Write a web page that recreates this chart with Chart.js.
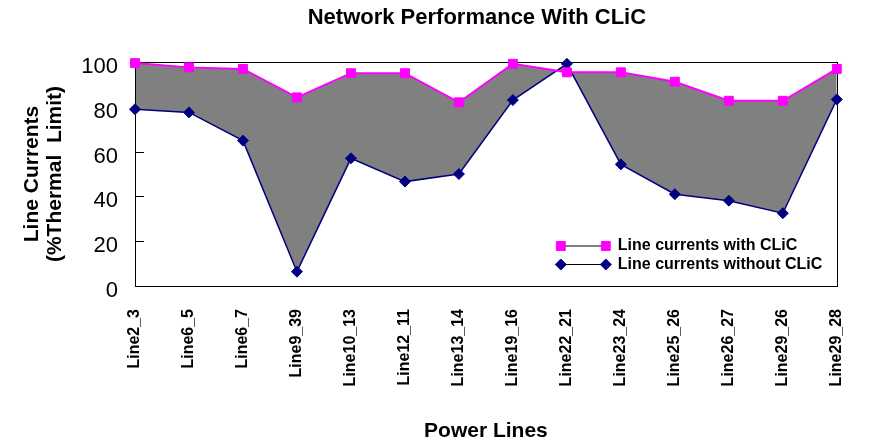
<!DOCTYPE html>
<html>
<head>
<meta charset="utf-8">
<script src="https://cdn.jsdelivr.net/npm/chart.js@4.4.0/dist/chart.umd.min.js"></script>
<style>
  html, body { margin: 0; padding: 0; background: #fff; }
</style>
</head>
<body>
<canvas id="lineChart" width="879" height="444"></canvas>
<script>
const chartTitle = 'Network Performance With CLiC';
const lines = ['Line2_3', 'Line6_5', 'Line6_7', 'Line9_39', 'Line10_13', 'Line12_11', 'Line13_14',
               'Line19_16', 'Line22_21', 'Line23_24', 'Line25_26', 'Line26_27', 'Line29_26', 'Line29_28'];
const withClic = [99.5, 97.6, 96.9, 84.2, 95, 95, 82, 99.2, 95.4, 95.4, 91.2, 82.7, 82.7, 96.9];
const withoutClic = [78.9, 77.5, 64.9, 6.4, 57, 46.6, 50, 83, 99.2, 54.3, 41, 38.1, 32.5, 83.3];
const yTicks = [0, 20, 40, 60, 80, 100];

const family = "Arial, 'Liberation Sans', sans-serif";
const canvas = document.getElementById('lineChart');
const ctx = canvas.getContext('2d');

// inside tick marks on the value axis (under the fill)
const yTickMarks = {
    id: 'yTickMarks',
    beforeDraw(chart) {
        const { ctx, chartArea, scales } = chart;
        ctx.save();
        ctx.strokeStyle = '#000';
        ctx.lineWidth = 1;
        yTicks.forEach((v) => {
            const y = Math.round(scales.y.getPixelForValue(v)) + 0.5;
            ctx.beginPath();
            ctx.moveTo(chartArea.left, y);
            ctx.lineTo(chartArea.left + 9, y);
            ctx.stroke();
        });
        ctx.restore();
    },
};

// plot frame, over the fill but under the lines
const frame = {
    id: 'frame',
    beforeDatasetsDraw(chart) {
        const { ctx, chartArea: a } = chart;
        ctx.save();
        ctx.strokeStyle = '#000';
        ctx.lineWidth = 1;
        ctx.strokeRect(Math.round(a.left) + 0.5, Math.round(a.top) + 0.5,
            Math.round(a.right - a.left), Math.round(a.bottom - a.top));
        ctx.restore();
    },
};

const titleAndLegend = {
    id: 'titleAndLegend',
    afterDraw(chart) {
        const { ctx, chartArea: a } = chart;
        ctx.save();
        ctx.fillStyle = '#000';
        ctx.textAlign = 'center';
        ctx.textBaseline = 'middle';
        ctx.font = `bold 22px ${family}`;
        ctx.fillText(chartTitle, (a.left + a.right) / 2 - 9, 18);

        ctx.font = `bold 16px ${family}`;
        ctx.textAlign = 'left';
        chart.data.datasets.forEach((ds, i) => {
            const y = a.bottom - 40 + i * 18.5;
            const x0 = a.right - 276;
            const x1 = a.right - 231;
            ctx.strokeStyle = '#000';
            ctx.lineWidth = 1;
            ctx.beginPath();
            ctx.moveTo(x0, y);
            ctx.lineTo(x1, y);
            ctx.stroke();
            ctx.fillStyle = ds.pointBackgroundColor;
            ctx.strokeStyle = ds.pointBorderColor;
            [x0, x1].forEach((x) => {
                Chart.helpers.drawPoint(ctx, { pointStyle: ds.pointStyle, radius: ds.pointRadius, borderWidth: 1, rotation: 0 }, x, y);
            });
            ctx.fillStyle = '#000';
            ctx.fillText(ds.label, a.right - 219, y);
        });
        ctx.restore();
    },
};

new Chart(ctx, {
    type: 'line',
    data: {
        labels: lines,
        datasets: [
            {
                label: 'Line currents with CLiC',
                data: withClic,
                borderColor: '#ff00ff',
                borderWidth: 2,
                pointStyle: 'rect',
                pointRadius: 6.3,
                pointBackgroundColor: '#ff00ff',
                pointBorderColor: '#ff00ff',
                pointBorderWidth: 1,
                backgroundColor: '#808080',
                fill: '+1',
                tension: 0,
                clip: false,
            },
            {
                label: 'Line currents without CLiC',
                data: withoutClic,
                borderColor: '#000080',
                borderWidth: 1.5,
                pointStyle: 'rectRot',
                pointRadius: 5.5,
                pointBackgroundColor: '#000080',
                pointBorderColor: '#000080',
                pointBorderWidth: 1,
                fill: false,
                tension: 0,
                clip: false,
            },
        ],
    },
    options: {
        responsive: false,
        animation: false,
        events: [],
        layout: { padding: { top: 62, right: 12, left: 0, bottom: 0 } },
        plugins: {
            legend: { display: false },
            tooltip: { enabled: false },
            title: { display: false },
            filler: { drawTime: 'beforeDatasetsDraw' },
        },
        scales: {
            x: {
                offset: false,
                grid: { display: false, drawTicks: false },
                border: { display: false },
                ticks: {
                    autoSkip: false,
                    minRotation: 90,
                    maxRotation: 90,
                    padding: 23,
                    color: '#000',
                    font: { family, size: 16, weight: 'bold' },
                },
                title: {
                    display: true,
                    text: 'Power Lines',
                    color: '#000',
                    font: { family, size: 21, weight: 'bold' },
                    padding: { top: 0, bottom: 0 },
                },
                afterFit(scale) {
                    scale.height = 158;
                },
            },
            y: {
                min: 0,
                max: 100,
                grid: { display: false, drawTicks: false },
                border: { display: false },
                afterBuildTicks(scale) {
                    scale.ticks = yTicks.map((v) => ({ value: v }));
                },
                ticks: {
                    padding: 17,
                    labelOffset: 5,
                    color: '#000',
                    font: { family, size: 22 },
                },
                title: {
                    display: true,
                    text: ['Line Currents', '(%Thermal  Limit)'],
                    color: '#000',
                    font: { family, size: 21, weight: 'bold', lineHeight: 1.1 },
                    padding: { top: 21, bottom: 0 },
                },
                afterFit(scale) {
                    scale.width = 135;
                },
            },
        },
    },
    plugins: [yTickMarks, frame, titleAndLegend],
});
</script>
</body>
</html>
